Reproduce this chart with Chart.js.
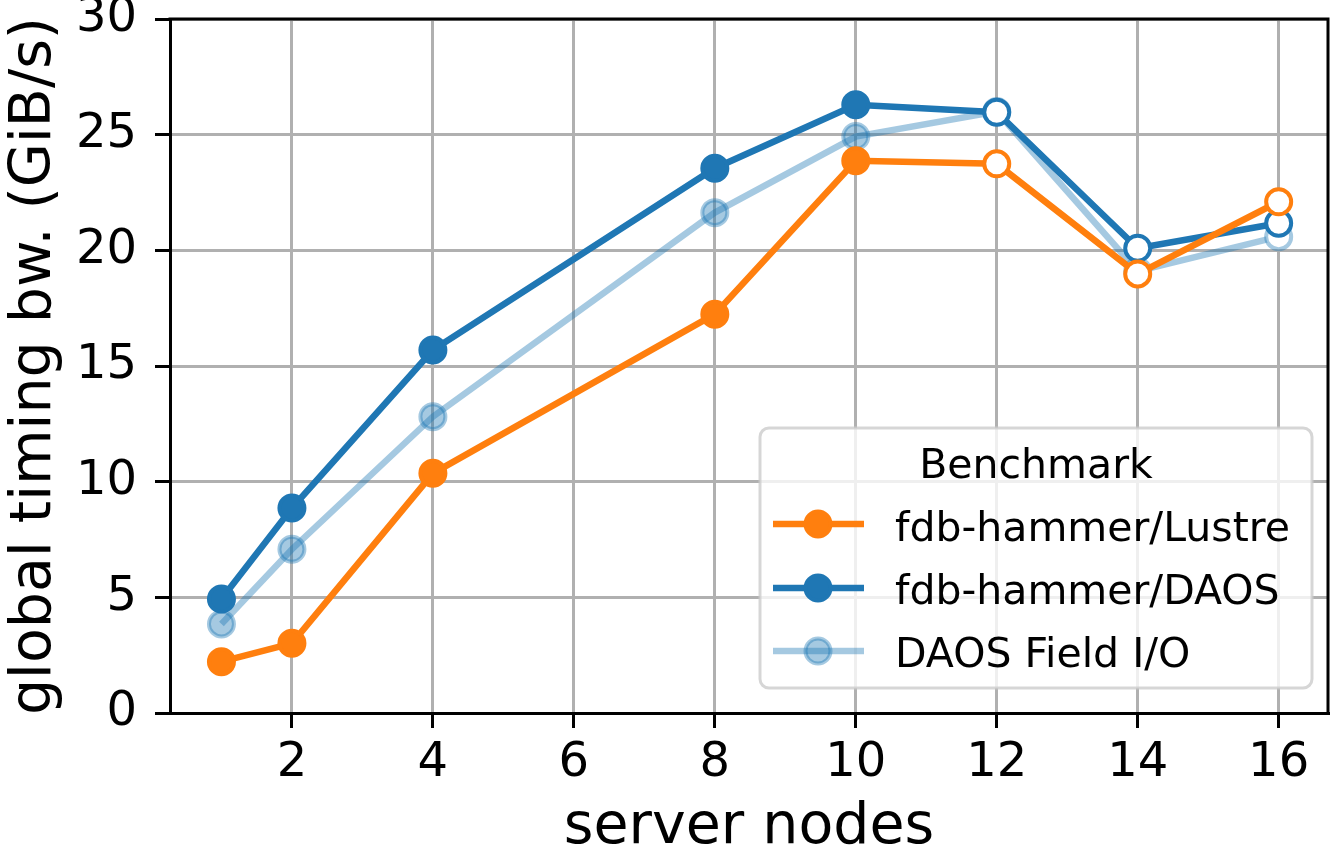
<!DOCTYPE html>
<html>
<head>
<meta charset="utf-8">
<script src="https://cdn.jsdelivr.net/npm/chart.js@4.4.1/dist/chart.umd.min.js"></script>
<style>
  html, body { margin: 0; padding: 0; background: #ffffff; }
  #wrap { width: 1337px; height: 853px; position: relative; }
</style>
</head>
<body>
<div id="wrap"><canvas id="c" width="1337" height="853"></canvas></div>
<script>
// ---- data ----
const nodes = [1, 2, 4, 8, 10, 12, 14, 16];
const lustre = [2.22, 3.01, 10.36, 17.24, 23.87, 23.74, 18.98, 22.10];
const daos = [4.93, 8.86, 15.69, 23.55, 26.29, 25.97, 20.09, 21.17];
const fieldIO = [3.85, 7.08, 12.81, 21.63, 24.92, 26.00, 19.10, 20.59];
const xTicks = [2, 4, 6, 8, 10, 12, 14, 16];
const yTicks = [0, 5, 10, 15, 20, 25, 30];
const seriesNames = ['fdb-hammer/Lustre', 'fdb-hammer/DAOS', 'DAOS Field I/O'];
const legendTitle = 'Benchmark';
const xTitle = 'server nodes';
const yTitle = 'global timing bw. (GiB/s)';
const hollowFrom = 12;

const FONT = "'DejaVu Sans', sans-serif";
const ORANGE = '#ff7f0e';
const BLUE = '#1f77b4';
const LIGHT = 'rgba(31,119,180,0.4)';

function pts(arr) { return nodes.map((n, i) => ({ x: n, y: arr[i] })); }
function fills(color) { return nodes.map(n => n >= hollowFrom ? '#ffffff' : color); }

const datasets = [
  { label: seriesNames[0], data: pts(lustre), borderColor: ORANGE, backgroundColor: ORANGE,
    pointBackgroundColor: fills(ORANGE), pointBorderColor: ORANGE },
  { label: seriesNames[1], data: pts(daos), borderColor: BLUE, backgroundColor: BLUE,
    pointBackgroundColor: fills(BLUE), pointBorderColor: BLUE },
  { label: seriesNames[2], data: pts(fieldIO), borderColor: LIGHT, backgroundColor: LIGHT,
    pointBackgroundColor: fills(LIGHT), pointBorderColor: LIGHT }
].map(d => Object.assign(d, {
  borderWidth: 6.5, pointRadius: 12.5, pointBorderWidth: 4, pointHoverRadius: 12.5,
  tension: 0, fill: false, clip: false
}));

function noPadding(s) {
  s._calculatePadding = function () {
    this.paddingLeft = 0; this.paddingRight = 0; this.paddingTop = 0; this.paddingBottom = 0;
  };
}

const framePlugin = {
  id: 'frame',
  afterDatasetsDraw(chart) {
    const { ctx, chartArea: a } = chart;
    ctx.save();
    ctx.strokeStyle = '#000000';
    ctx.lineWidth = 3;
    ctx.lineCap = 'square';
    ctx.beginPath();
    ctx.moveTo(a.left, a.top); ctx.lineTo(a.right, a.top); ctx.lineTo(a.right, a.bottom);
    ctx.stroke();
    ctx.restore();
  }
};

const legendPlugin = {
  id: 'mplLegend',
  afterDraw(chart) {
    const ctx = chart.ctx;
    const bx = 760, by = 428, bw = 552, bh = 260, r = 9;
    ctx.save();
    ctx.beginPath();
    ctx.moveTo(bx + r, by);
    ctx.arcTo(bx + bw, by, bx + bw, by + bh, r);
    ctx.arcTo(bx + bw, by + bh, bx, by + bh, r);
    ctx.arcTo(bx, by + bh, bx, by, r);
    ctx.arcTo(bx, by, bx + bw, by, r);
    ctx.closePath();
    ctx.fillStyle = 'rgba(255,255,255,0.8)';
    ctx.fill();
    ctx.strokeStyle = 'rgba(204,204,204,0.8)';
    ctx.lineWidth = 3;
    ctx.stroke();

    ctx.fillStyle = '#000000';
    ctx.font = '41px ' + FONT;
    ctx.textAlign = 'center';
    ctx.textBaseline = 'alphabetic';
    ctx.fillText(legendTitle, bx + bw / 2, 478);

    const lineY = [524, 588, 651];
    const textY = [541, 604, 667];
    chart.data.datasets.forEach((ds, i) => {
      const y = lineY[i];
      ctx.strokeStyle = ds.borderColor;
      ctx.lineWidth = ds.borderWidth;
      ctx.lineCap = 'butt';
      ctx.beginPath();
      ctx.moveTo(773, y); ctx.lineTo(864, y);
      ctx.stroke();
      ctx.beginPath();
      ctx.arc(818, y, ds.pointRadius, 0, Math.PI * 2);
      ctx.fillStyle = ds.backgroundColor;
      ctx.fill();
      ctx.lineWidth = ds.pointBorderWidth;
      ctx.strokeStyle = ds.pointBorderColor;
      ctx.stroke();
      ctx.fillStyle = '#000000';
      ctx.textAlign = 'left';
      ctx.fillText(ds.label, 895, textY[i]);
    });
    ctx.restore();
  }
};

new Chart(document.getElementById('c'), {
  type: 'line',
  data: { datasets },
  plugins: [framePlugin, legendPlugin],
  options: {
    responsive: false,
    animation: false,
    devicePixelRatio: 1,
    layout: { autoPadding: false, padding: { top: 19, right: 9, left: 0, bottom: 0 } },
    plugins: { legend: { display: false }, tooltip: { enabled: false } },
    scales: {
      x: {
        type: 'linear', min: 0.27, max: 16.7,
        beforeFit: noPadding,
        afterFit(s) { s.height = 140; },
        afterBuildTicks(s) { s.ticks = xTicks.map(v => ({ value: v })); },
        ticks: { font: { family: FONT, size: 48 }, color: '#000', padding: 7, maxRotation: 0, autoSkip: false },
        grid: { color: '#b0b0b0', lineWidth: 3, tickLength: 15, tickColor: '#000', tickWidth: 3 },
        border: { color: '#000', width: 3 },
        title: { display: true, text: xTitle, color: '#000',
                 font: { family: FONT, size: 57, lineHeight: 0.86 }, padding: 0 }
      },
      y: {
        type: 'linear', min: 0, max: 30,
        beforeFit: noPadding,
        afterFit(s) { s.width = 170; },
        afterBuildTicks(s) { s.ticks = yTicks.map(v => ({ value: v })); },
        ticks: { font: { family: FONT, size: 48 }, color: '#000', padding: 18 },
        grid: { color: '#b0b0b0', lineWidth: 3, tickLength: 15, tickColor: '#000', tickWidth: 3 },
        border: { color: '#000', width: 3 },
        title: { display: true, text: yTitle, color: '#000',
                 font: { family: FONT, size: 57, lineHeight: 0.86 }, padding: { top: 11, bottom: 0 } }
      }
    }
  }
});
</script>
</body>
</html>
